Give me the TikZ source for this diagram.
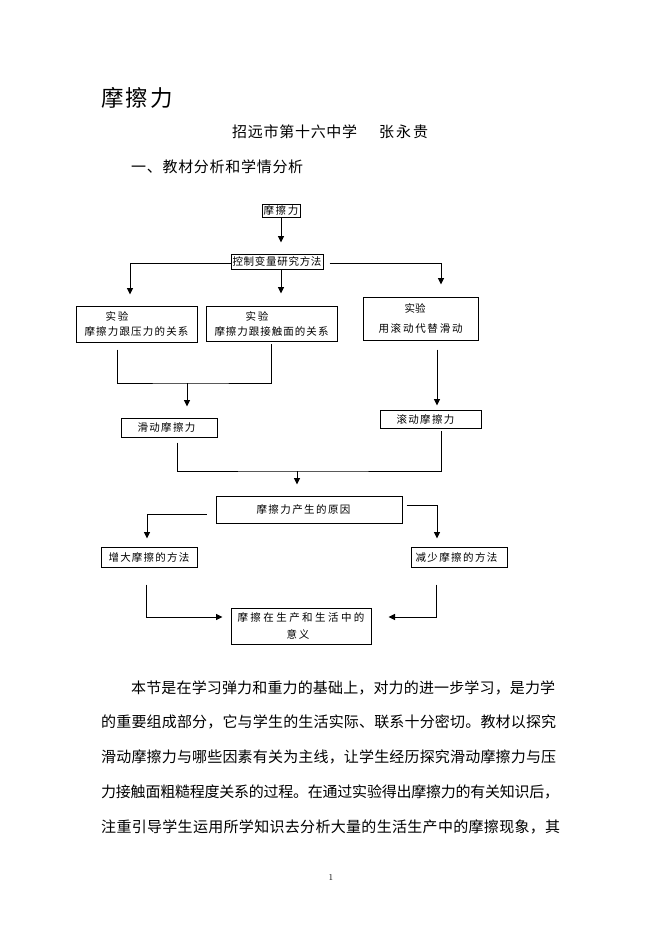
\documentclass[tikz,border=0pt]{standalone}
\usepackage{fontspec}
\newfontfamily\cjk{Noto Sans CJK SC}
\usetikzlibrary{arrows.meta,calc}
\makeatletter
\newcommand\spr[2]{\hbox to #1{\@tfor\spr@c:=#2\do{\spr@c\hskip 0pt plus 1fil minus 1fil\relax}\unskip}}
\makeatother
\begin{document}
\begin{tikzpicture}[x=1pt,y=-1pt,
  every node/.style={inner sep=0pt,font=\cjk},
  box/.style={draw,line width=1pt,inner sep=0pt,align=center,font=\cjk\fontsize{10.5}{15}\selectfont},
  ln/.style={line width=1pt},
  arr/.style={line width=1pt,-{Triangle[width=6pt,length=6.5pt]}},
  body/.style={anchor=west,font=\cjk\fontsize{15}{15}\selectfont}]
\fill[white] (0,0) rectangle (661,935);
\useasboundingbox (0,0) rectangle (661,935);

% header
\node[anchor=west,font=\cjk\fontsize{22.5}{22.5}\selectfont] (title) at (101,98) {\spr{72pt}{摩擦力}};
\node[anchor=west,font=\cjk\fontsize{15}{15}\selectfont] (school) at (232,132) {\spr{125pt}{招远市第十六中学}};
\node[anchor=west,font=\cjk\fontsize{15}{15}\selectfont] (author) at (379,132) {\spr{49pt}{张永贵}};
\node[anchor=west,font=\cjk\fontsize{15}{15}\selectfont] (sec) at (131,167) {\spr{172pt}{一、教材分析和学情分析}};

% boxes
\node[box,minimum width=38pt,minimum height=13pt] (A) at (281,210.5) {\spr{35pt}{摩擦力}};
\node[box,minimum width=92pt,minimum height=15pt] (B) at (277,261.5) {\spr{89pt}{控制变量研究方法}};
\node[box,minimum width=121pt,minimum height=36pt] (C) at (136.5,324) {\hbox to 62pt{\spr{23pt}{实验}\hss}\\\spr{104pt}{摩擦力跟压力的关系}};
\node[box,minimum width=131pt,minimum height=35pt] (D) at (271.5,323.5) {\hbox to 52pt{\spr{23pt}{实验}\hss}\\\spr{114pt}{摩擦力跟接触面的关系}};
\node[box,minimum width=115pt,minimum height=43pt] (E) at (420.5,318.5) {\hbox to 32pt{\spr{21pt}{实验}\hss}\\[5pt]\spr{84pt}{用滚动代替滑动}};
\node[box,minimum width=96pt,minimum height=19pt] (F) at (169,427.5) {\hbox to 63pt{\spr{58pt}{滑动摩擦力}\hss}};
\node[box,minimum width=101pt,minimum height=18pt] (G) at (430.5,419) {\hbox to 68pt{\spr{58pt}{滚动摩擦力}\hss}};
\node[box,minimum width=186pt,minimum height=27pt] (H) at (309,509.5) {\hbox to 105pt{\spr{94pt}{摩擦力产生的原因}\hss}};
\node[box,minimum width=96pt,minimum height=20pt] (I) at (149,557) {\spr{81pt}{增大摩擦的方法}};
\node[box,minimum width=96pt,minimum height=20pt] (J) at (459,557) {\hbox to 87pt{\spr{82pt}{减少摩擦的方法}\hss}};
\node[box,minimum width=140pt,minimum height=36pt] (K) at (301,626) {\spr{127pt}{摩擦在生产和生活中的}\\[2pt]\hbox to 29pt{\spr{23pt}{意义}\hss}};

% connectors
\draw[arr,shorten >=11pt] (A.south) -- (A.south |- B.north);
\draw[arr,shorten >=11pt] ([yshift=-1.5pt]B.west) -| ([xshift=-6.5pt]C.north);
\draw[arr,shorten >=12pt] ([xshift=4pt]B.south) -- ([xshift=4pt]B.south |- D.north);
\draw[arr,shorten <=6pt,shorten >=12pt] ([yshift=-1.5pt]B.east) -| ([xshift=20.5pt]E.north);
\coordinate (m1) at (187,383);
\draw[ln] ([xshift=-19.5pt,yshift=-7pt]C.south) |- (m1) -| ([yshift=-2pt]D.south);
\draw[arr,shorten >=11pt] (m1) -- (m1 |- F.north);
\draw[arr,shorten >=4pt] ([xshift=16.5pt,yshift=-9pt]E.south) -- ([xshift=16.5pt]E.south |- G.north);
\coordinate (m2) at (297,471);
\draw[ln] ([xshift=8pt,yshift=-5pt]F.south) |- (m2) -| ([xshift=10.5pt,yshift=-2pt]G.south);
\draw[arr,shorten >=11pt] (m2) -- (m2 |- H.north);
\draw[arr,shorten >=8pt] ([xshift=-9pt,yshift=-4.5pt]H.west) -| ([xshift=-2pt]I.north);
\draw[arr,shorten >=8pt] ([xshift=4pt,yshift=4.5pt]H.east) -| ([xshift=-22pt]J.north);
\draw[arr,shorten >=8pt] ([xshift=-3pt,yshift=-17pt]I.south) |- ([yshift=9pt]K.west);
\draw[arr,shorten >=17pt] ([xshift=-23pt,yshift=-17pt]J.south) |- ([yshift=9pt]K.east);

% body text
\node[body] (p1) at (131,687.5) {\spr{424pt}{本节是在学习弹力和重力的基础上，对力的进一步学习，是力学}};
\node[body] (p2) at (101,722) {\spr{455pt}{的重要组成部分，它与学生的生活实际、联系十分密切。教材以探究}};
\node[body] (p3) at (101,757) {\spr{455pt}{滑动摩擦力与哪些因素有关为主线，让学生经历探究滑动摩擦力与压}};
\node[body] (p4) at (101,792) {\spr{458pt}{力接触面粗糙程度关系的过程。在通过实验得出摩擦力的有关知识后，}};
\node[body] (p5) at (101,827) {\spr{459pt}{注重引导学生运用所学知识去分析大量的生活生产中的摩擦现象，其}};
\node[font=\rmfamily\fontsize{9}{9}\selectfont] (pg) at (331,877) {1};
\end{tikzpicture}
\end{document}
